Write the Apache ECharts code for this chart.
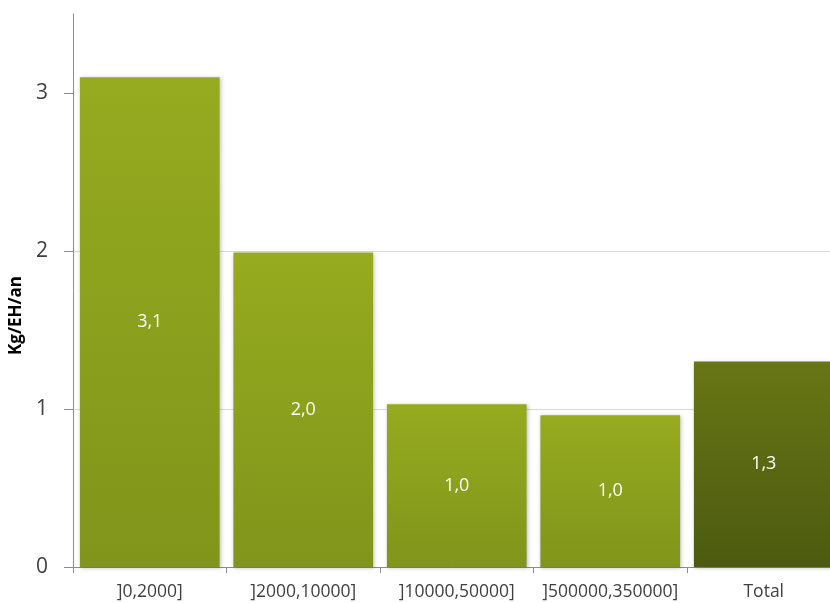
<!DOCTYPE html>
<html><head><meta charset="utf-8">
<script src="https://cdn.jsdelivr.net/npm/echarts@6/dist/echarts.min.js"></script>
<style>html,body{margin:0;padding:0;background:#fff}#c{width:830px;height:603px}</style>
</head><body><div id="c"></div>
<script>
const categories = [']0,2000]', ']2000,10000]', ']10000,50000]', ']500000,350000]', 'Total'];
const values = [3.10, 1.99, 1.03, 0.96, 1.30];
const labels = ['3,1', '2,0', '1,0', '1,0', '1,3'];
const yTicks = [0, 1, 2, 3];
const yName = 'Kg/EH/an';

const green = new echarts.graphic.LinearGradient(0,0,0,1,[{offset:0,color:'#96AB1F'},{offset:1,color:'#80951A'}]);
const dark = new echarts.graphic.LinearGradient(0,0,0,1,[{offset:0,color:'#687615'},{offset:1,color:'#4C5A10'}]);

const chart = echarts.init(document.getElementById('c'), null, {renderer:'canvas'});
chart.setOption({
  animation:false,
  grid:{left:73, right:-10.5, top:14, bottom:36, containLabel:false, outerBoundsMode:'none'},
  xAxis:{
    type:'category', data:categories,
    axisLine:{lineStyle:{color:'#8c8c8c', width:1}},
    axisTick:{show:true, length:6, lineStyle:{color:'#8c8c8c'}},
    axisLabel:{color:'#404040', fontSize:17.5, fontFamily:'Open Sans', margin:16, interval:0}
  },
  yAxis:{
    type:'value', min:0, max:3.5, interval:1,
    name:yName, nameLocation:'middle', nameGap:43,
    nameTextStyle:{fontSize:17, fontWeight:'bold', color:'#000', fontFamily:'Open Sans', padding:[0,50,0,0]},
    axisLine:{show:true, lineStyle:{color:'#8c8c8c'}},
    axisTick:{show:true, length:9, customValues:yTicks, lineStyle:{color:'#8c8c8c'}},
    axisLabel:{color:'#404040', fontSize:21, fontFamily:'Open Sans', margin:25, customValues:yTicks},
    splitLine:{show:true, showMaxLine:false, lineStyle:{color:'#d9d9d9'}}
  },
  series:[{
    type:'bar', barCategoryGap:'9%',
    data: values.map((v,i)=>({value:v, itemStyle:{color: i===4?dark:green}})),
    itemStyle:{shadowBlur:4, shadowColor:'rgba(0,0,0,0.25)', shadowOffsetX:1, shadowOffsetY:1},
    label:{show:true, position:'inside', color:'#fff', fontSize:18, fontFamily:'Open Sans',
      formatter:(p)=>labels[p.dataIndex]}
  }]
});
</script></body></html>
